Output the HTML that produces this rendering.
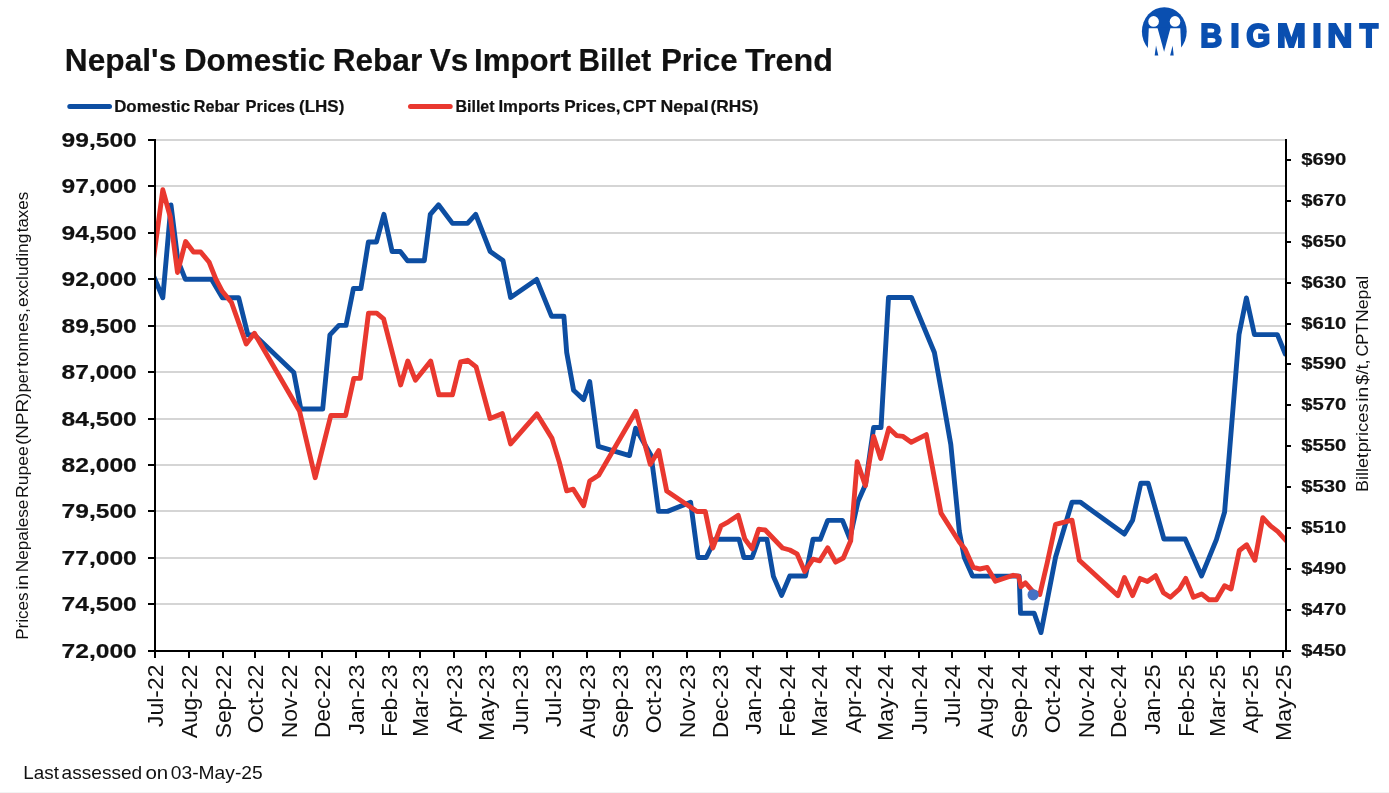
<!DOCTYPE html>
<html lang="en"><head><meta charset="utf-8"><title>Nepal's Domestic Rebar Vs Import Billet Price Trend</title>
<style>html,body{margin:0;padding:0;background:#fff;}body{width:1389px;height:793px;overflow:hidden;}svg{display:block;will-change:transform;}text{font-family:"Liberation Sans",sans-serif;fill:#111111;}.b{font-weight:700;stroke:#111111;stroke-width:0.2px;}</style></head><body>
<svg width="1389" height="793" viewBox="0 0 1389 793">
<rect x="0" y="0" width="1389" height="793" fill="#ffffff"/>
<rect x="0" y="792" width="1389" height="1" fill="#f3f3f3"/>
<defs><clipPath id="plot"><rect x="155" y="130" width="1131" height="530"/></clipPath></defs>
<text class="b" y="70.5" font-size="31"><tspan x="64.86" textLength="111.40" lengthAdjust="spacingAndGlyphs">Nepal's</tspan> <tspan x="183.98" textLength="141.18" lengthAdjust="spacingAndGlyphs">Domestic</tspan> <tspan x="332.66" textLength="89.53" lengthAdjust="spacingAndGlyphs">Rebar</tspan> <tspan x="429.70" textLength="38.64" lengthAdjust="spacingAndGlyphs">Vs</tspan> <tspan x="473.99" textLength="97.16" lengthAdjust="spacingAndGlyphs">Import</tspan> <tspan x="578.48" textLength="72.83" lengthAdjust="spacingAndGlyphs">Billet</tspan> <tspan x="660.98" textLength="76.67" lengthAdjust="spacingAndGlyphs">Price</tspan> <tspan x="745.10" textLength="87.80" lengthAdjust="spacingAndGlyphs">Trend</tspan></text>
<line x1="69.8" y1="106.4" x2="109.5" y2="106.4" stroke="#0d4ea2" stroke-width="5" stroke-linecap="round"/>
<text class="b" y="112" font-size="16.5"><tspan x="114.18" textLength="75.91" lengthAdjust="spacingAndGlyphs">Domestic</tspan> <tspan x="193.72" textLength="45.97" lengthAdjust="spacingAndGlyphs">Rebar</tspan> <tspan x="245.50" textLength="49.55" lengthAdjust="spacingAndGlyphs">Prices</tspan> <tspan x="299.07" textLength="45.26" lengthAdjust="spacingAndGlyphs">(LHS)</tspan></text>
<line x1="410.5" y1="106.4" x2="450.2" y2="106.4" stroke="#e9382f" stroke-width="5" stroke-linecap="round"/>
<text class="b" y="112" font-size="16.5"><tspan x="455.53" textLength="39.00" lengthAdjust="spacingAndGlyphs">Billet</tspan> <tspan x="498.48" textLength="61.44" lengthAdjust="spacingAndGlyphs">Imports</tspan> <tspan x="564.16" textLength="56.31" lengthAdjust="spacingAndGlyphs">Prices,</tspan> <tspan x="622.89" textLength="33.31" lengthAdjust="spacingAndGlyphs">CPT</tspan> <tspan x="660.43" textLength="48.18" lengthAdjust="spacingAndGlyphs">Nepal</tspan> <tspan x="710.45" textLength="48.02" lengthAdjust="spacingAndGlyphs">(RHS)</tspan></text>
<g fill="#d5d5d5">
<rect x="156" y="603" width="1129" height="2"/>
<rect x="156" y="557" width="1129" height="2"/>
<rect x="156" y="510" width="1129" height="2"/>
<rect x="156" y="464" width="1129" height="2"/>
<rect x="156" y="418" width="1129" height="2"/>
<rect x="156" y="371" width="1129" height="2"/>
<rect x="156" y="325" width="1129" height="2"/>
<rect x="156" y="278" width="1129" height="2"/>
<rect x="156" y="232" width="1129" height="2"/>
<rect x="156" y="185" width="1129" height="2"/>
<rect x="156" y="139" width="1129" height="2"/>
</g>
<g fill="none" stroke-width="4.9" stroke-linejoin="round" stroke-linecap="round" clip-path="url(#plot)">
<polyline stroke="#0d4ea2" points="153.0,274.7 154.9,279.2 162.8,297.8 171.0,205.0 177.9,260.7 185.3,279.2 211.5,279.2 222.4,297.8 238.7,297.8 247.9,334.9 254.5,334.9 293.8,372.5 300.8,409.0 322.7,409.0 329.9,334.9 338.9,325.4 346.0,325.4 353.4,288.5 360.9,288.5 368.4,242.0 376.4,242.0 383.9,214.3 392.1,251.5 400.3,251.5 407.5,260.7 424.3,260.7 430.3,214.4 438.5,204.8 452.5,223.4 467.5,223.4 475.7,214.4 490.2,251.5 503.0,260.6 510.6,297.4 536.6,279.4 551.5,316.2 563.9,316.2 566.7,352.5 573.6,390.2 583.6,399.6 589.7,381.5 598.3,446.4 629.5,455.6 635.6,428.2 651.1,455.5 658.5,511.4 667.5,511.4 690.6,502.2 698.0,557.5 706.2,557.5 715.2,539.2 739.0,539.2 743.9,557.5 752.1,557.5 758.7,539.2 766.9,539.2 773.4,576.4 781.6,595.4 789.8,576.0 805.5,576.0 813.0,539.3 820.3,539.3 827.7,520.4 842.5,520.4 849.8,538.6 858.0,501.6 865.5,484.5 873.6,427.5 881.0,427.5 888.5,297.5 911.5,297.5 934.4,352.5 943.0,400.0 950.8,444.5 959.3,531.3 964.3,557.5 972.5,576.1 1019.2,576.1 1020.5,613.3 1034.2,613.3 1041.0,632.6 1055.6,557.0 1072.0,502.1 1080.2,502.1 1124.4,534.1 1132.6,520.2 1140.8,483.3 1148.2,483.3 1163.9,539.0 1185.2,539.0 1201.6,575.9 1216.4,539.6 1224.6,512.0 1239.0,334.6 1246.4,298.0 1254.4,334.6 1277.4,334.6 1285.3,354.0"/>
<polyline stroke="#e9382f" points="153.0,262.6 162.8,189.8 170.3,217.0 177.5,272.5 185.6,241.5 193.5,252.0 200.7,252.0 209.2,262.3 215.8,279.0 222.3,291.3 231.5,302.5 246.2,343.9 254.4,333.3 299.5,411.0 315.2,477.7 330.8,415.5 345.6,415.5 353.8,378.4 360.3,378.4 368.5,313.1 376.7,313.1 383.6,318.9 400.6,385.0 407.8,361.0 415.4,380.2 430.7,361.1 438.9,394.8 452.4,394.8 460.6,362.0 467.6,360.3 476.1,366.9 490.1,418.5 502.4,413.6 510.6,443.9 536.9,413.8 552.0,438.4 559.3,462.1 566.7,490.8 573.3,489.2 583.6,505.6 589.7,481.0 598.7,475.2 635.9,411.3 650.3,464.3 658.7,450.5 666.7,491.0 697.0,511.5 705.3,511.5 712.8,548.0 721.0,525.9 728.4,521.8 738.2,515.3 744.8,539.0 752.1,548.9 758.7,529.2 765.2,530.0 782.5,548.0 789.8,550.0 797.0,553.8 804.7,571.5 813.0,559.2 819.7,560.8 827.7,547.8 835.6,562.1 843.3,558.0 850.7,540.8 857.2,461.8 865.4,485.6 873.6,436.4 880.7,458.5 888.9,428.2 896.6,435.6 903.1,436.4 911.2,442.3 926.3,434.6 941.0,513.1 959.3,542.0 965.1,549.3 973.3,567.4 979.8,569.0 987.2,567.4 995.4,581.3 1013.2,575.3 1018.6,576.2 1021.0,586.8 1025.4,582.8 1033.0,591.5 1039.8,594.5 1047.4,562.0 1055.6,524.3 1072.0,520.2 1079.3,560.3 1117.9,595.6 1124.4,577.5 1132.6,595.6 1140.0,578.4 1147.4,581.6 1155.6,575.7 1163.4,592.7 1170.4,597.2 1179.5,589.0 1185.7,578.4 1193.4,597.2 1201.6,593.9 1209.0,599.7 1216.4,599.7 1224.6,585.7 1231.1,589.0 1239.3,550.5 1246.7,544.8 1254.9,560.3 1262.8,517.7 1270.5,525.9 1277.9,531.6 1286.1,540.7"/>
</g>
<circle cx="1033.1" cy="594.8" r="5.6" fill="#4472c4"/>
<g fill="#000000">
<rect x="154" y="139" width="2" height="513"/>
<rect x="1285" y="139" width="2" height="513"/>
<rect x="148" y="650" width="1143" height="2"/>
<rect x="148" y="603" width="7" height="2"/>
<rect x="148" y="557" width="7" height="2"/>
<rect x="148" y="510" width="7" height="2"/>
<rect x="148" y="464" width="7" height="2"/>
<rect x="148" y="418" width="7" height="2"/>
<rect x="148" y="371" width="7" height="2"/>
<rect x="148" y="325" width="7" height="2"/>
<rect x="148" y="278" width="7" height="2"/>
<rect x="148" y="232" width="7" height="2"/>
<rect x="148" y="185" width="7" height="2"/>
<rect x="148" y="139" width="7" height="2"/>
<rect x="1286" y="609" width="5" height="2"/>
<rect x="1286" y="568" width="5" height="2"/>
<rect x="1286" y="527" width="5" height="2"/>
<rect x="1286" y="486" width="5" height="2"/>
<rect x="1286" y="445" width="5" height="2"/>
<rect x="1286" y="404" width="5" height="2"/>
<rect x="1286" y="363" width="5" height="2"/>
<rect x="1286" y="323" width="5" height="2"/>
<rect x="1286" y="282" width="5" height="2"/>
<rect x="1286" y="241" width="5" height="2"/>
<rect x="1286" y="200" width="5" height="2"/>
<rect x="1286" y="159" width="5" height="2"/>
<rect x="154" y="651" width="2" height="7"/>
<rect x="188" y="651" width="2" height="7"/>
<rect x="222" y="651" width="2" height="7"/>
<rect x="254" y="651" width="2" height="7"/>
<rect x="288" y="651" width="2" height="7"/>
<rect x="321" y="651" width="2" height="7"/>
<rect x="355" y="651" width="2" height="7"/>
<rect x="388" y="651" width="2" height="7"/>
<rect x="419" y="651" width="2" height="7"/>
<rect x="453" y="651" width="2" height="7"/>
<rect x="485" y="651" width="2" height="7"/>
<rect x="519" y="651" width="2" height="7"/>
<rect x="552" y="651" width="2" height="7"/>
<rect x="586" y="651" width="2" height="7"/>
<rect x="619" y="651" width="2" height="7"/>
<rect x="652" y="651" width="2" height="7"/>
<rect x="686" y="651" width="2" height="7"/>
<rect x="719" y="651" width="2" height="7"/>
<rect x="752" y="651" width="2" height="7"/>
<rect x="786" y="651" width="2" height="7"/>
<rect x="818" y="651" width="2" height="7"/>
<rect x="852" y="651" width="2" height="7"/>
<rect x="884" y="651" width="2" height="7"/>
<rect x="918" y="651" width="2" height="7"/>
<rect x="951" y="651" width="2" height="7"/>
<rect x="984" y="651" width="2" height="7"/>
<rect x="1018" y="651" width="2" height="7"/>
<rect x="1051" y="651" width="2" height="7"/>
<rect x="1085" y="651" width="2" height="7"/>
<rect x="1117" y="651" width="2" height="7"/>
<rect x="1151" y="651" width="2" height="7"/>
<rect x="1185" y="651" width="2" height="7"/>
<rect x="1216" y="651" width="2" height="7"/>
<rect x="1249" y="651" width="2" height="7"/>
<rect x="1282" y="651" width="2" height="7"/>
</g>
<g class="b" font-size="20.4" text-anchor="start">
<text x="61.6" y="657.55" textLength="75.2" lengthAdjust="spacingAndGlyphs">72,000</text>
<text x="61.6" y="611.15" textLength="75.2" lengthAdjust="spacingAndGlyphs">74,500</text>
<text x="61.6" y="565.15" textLength="75.2" lengthAdjust="spacingAndGlyphs">77,000</text>
<text x="61.6" y="518.15" textLength="75.2" lengthAdjust="spacingAndGlyphs">79,500</text>
<text x="61.6" y="472.15" textLength="75.2" lengthAdjust="spacingAndGlyphs">82,000</text>
<text x="61.6" y="426.15" textLength="75.2" lengthAdjust="spacingAndGlyphs">84,500</text>
<text x="61.6" y="379.15" textLength="75.2" lengthAdjust="spacingAndGlyphs">87,000</text>
<text x="61.6" y="333.15" textLength="75.2" lengthAdjust="spacingAndGlyphs">89,500</text>
<text x="61.6" y="286.15" textLength="75.2" lengthAdjust="spacingAndGlyphs">92,000</text>
<text x="61.6" y="240.15" textLength="75.2" lengthAdjust="spacingAndGlyphs">94,500</text>
<text x="61.6" y="193.15" textLength="75.2" lengthAdjust="spacingAndGlyphs">97,000</text>
<text x="61.6" y="147.15" textLength="75.2" lengthAdjust="spacingAndGlyphs">99,500</text>
</g>
<g class="b" font-size="16" text-anchor="start">
<text x="1301.2" y="655.70" textLength="45" lengthAdjust="spacingAndGlyphs">$450</text>
<text x="1301.2" y="615.30" textLength="45" lengthAdjust="spacingAndGlyphs">$470</text>
<text x="1301.2" y="574.30" textLength="45" lengthAdjust="spacingAndGlyphs">$490</text>
<text x="1301.2" y="533.30" textLength="45" lengthAdjust="spacingAndGlyphs">$510</text>
<text x="1301.2" y="492.30" textLength="45" lengthAdjust="spacingAndGlyphs">$530</text>
<text x="1301.2" y="451.30" textLength="45" lengthAdjust="spacingAndGlyphs">$550</text>
<text x="1301.2" y="410.30" textLength="45" lengthAdjust="spacingAndGlyphs">$570</text>
<text x="1301.2" y="369.30" textLength="45" lengthAdjust="spacingAndGlyphs">$590</text>
<text x="1301.2" y="329.30" textLength="45" lengthAdjust="spacingAndGlyphs">$610</text>
<text x="1301.2" y="288.30" textLength="45" lengthAdjust="spacingAndGlyphs">$630</text>
<text x="1301.2" y="247.30" textLength="45" lengthAdjust="spacingAndGlyphs">$650</text>
<text x="1301.2" y="206.30" textLength="45" lengthAdjust="spacingAndGlyphs">$670</text>
<text x="1301.2" y="165.30" textLength="45" lengthAdjust="spacingAndGlyphs">$690</text>
</g>
<g font-size="22" text-anchor="end">
<text transform="translate(162.80,664.6) rotate(-90) scale(1.04,1)">Jul-22</text>
<text transform="translate(196.80,664.6) rotate(-90) scale(1.04,1)">Aug-22</text>
<text transform="translate(230.80,664.6) rotate(-90) scale(1.04,1)">Sep-22</text>
<text transform="translate(262.80,664.6) rotate(-90) scale(1.04,1)">Oct-22</text>
<text transform="translate(296.80,664.6) rotate(-90) scale(1.04,1)">Nov-22</text>
<text transform="translate(329.80,664.6) rotate(-90) scale(1.04,1)">Dec-22</text>
<text transform="translate(363.80,664.6) rotate(-90) scale(1.04,1)">Jan-23</text>
<text transform="translate(396.80,664.6) rotate(-90) scale(1.04,1)">Feb-23</text>
<text transform="translate(427.80,664.6) rotate(-90) scale(1.04,1)">Mar-23</text>
<text transform="translate(461.80,664.6) rotate(-90) scale(1.04,1)">Apr-23</text>
<text transform="translate(493.80,664.6) rotate(-90) scale(1.04,1)">May-23</text>
<text transform="translate(527.80,664.6) rotate(-90) scale(1.04,1)">Jun-23</text>
<text transform="translate(560.80,664.6) rotate(-90) scale(1.04,1)">Jul-23</text>
<text transform="translate(594.80,664.6) rotate(-90) scale(1.04,1)">Aug-23</text>
<text transform="translate(627.80,664.6) rotate(-90) scale(1.04,1)">Sep-23</text>
<text transform="translate(660.80,664.6) rotate(-90) scale(1.04,1)">Oct-23</text>
<text transform="translate(694.80,664.6) rotate(-90) scale(1.04,1)">Nov-23</text>
<text transform="translate(727.80,664.6) rotate(-90) scale(1.04,1)">Dec-23</text>
<text transform="translate(760.80,664.6) rotate(-90) scale(1.04,1)">Jan-24</text>
<text transform="translate(794.80,664.6) rotate(-90) scale(1.04,1)">Feb-24</text>
<text transform="translate(826.80,664.6) rotate(-90) scale(1.04,1)">Mar-24</text>
<text transform="translate(860.80,664.6) rotate(-90) scale(1.04,1)">Apr-24</text>
<text transform="translate(892.80,664.6) rotate(-90) scale(1.04,1)">May-24</text>
<text transform="translate(926.80,664.6) rotate(-90) scale(1.04,1)">Jun-24</text>
<text transform="translate(959.80,664.6) rotate(-90) scale(1.04,1)">Jul-24</text>
<text transform="translate(992.80,664.6) rotate(-90) scale(1.04,1)">Aug-24</text>
<text transform="translate(1026.80,664.6) rotate(-90) scale(1.04,1)">Sep-24</text>
<text transform="translate(1059.80,664.6) rotate(-90) scale(1.04,1)">Oct-24</text>
<text transform="translate(1093.80,664.6) rotate(-90) scale(1.04,1)">Nov-24</text>
<text transform="translate(1125.80,664.6) rotate(-90) scale(1.04,1)">Dec-24</text>
<text transform="translate(1159.80,664.6) rotate(-90) scale(1.04,1)">Jan-25</text>
<text transform="translate(1193.80,664.6) rotate(-90) scale(1.04,1)">Feb-25</text>
<text transform="translate(1224.80,664.6) rotate(-90) scale(1.04,1)">Mar-25</text>
<text transform="translate(1257.80,664.6) rotate(-90) scale(1.04,1)">Apr-25</text>
<text transform="translate(1290.80,664.6) rotate(-90) scale(1.04,1)">May-25</text>
</g>
<text font-size="16" transform="translate(28,0) rotate(-90)"><tspan x="-639.87" textLength="47.35" lengthAdjust="spacingAndGlyphs">Prices</tspan> <tspan x="-589.71" textLength="15.07" lengthAdjust="spacingAndGlyphs">in</tspan> <tspan x="-572.17" textLength="72.53" lengthAdjust="spacingAndGlyphs">Nepalese</tspan> <tspan x="-497.90" textLength="51.77" lengthAdjust="spacingAndGlyphs">Rupee</tspan> <tspan x="-444.98" textLength="52.27" lengthAdjust="spacingAndGlyphs">(NPR)</tspan> <tspan x="-392.32" textLength="23.65" lengthAdjust="spacingAndGlyphs">per</tspan> <tspan x="-366.80" textLength="58.76" lengthAdjust="spacingAndGlyphs">tonnes,</tspan> <tspan x="-306.99" textLength="73.45" lengthAdjust="spacingAndGlyphs">excluding</tspan> <tspan x="-232.30" textLength="40.46" lengthAdjust="spacingAndGlyphs">taxes</tspan></text>
<text font-size="16" transform="translate(1368.4,0) rotate(-90)"><tspan x="-492.02" textLength="39.00" lengthAdjust="spacingAndGlyphs">Billet</tspan> <tspan x="-452.35" textLength="48.93" lengthAdjust="spacingAndGlyphs">prices</tspan> <tspan x="-401.72" textLength="15.19" lengthAdjust="spacingAndGlyphs">in</tspan> <tspan x="-384.70" textLength="25.20" lengthAdjust="spacingAndGlyphs">$/t,</tspan> <tspan x="-356.63" textLength="32.83" lengthAdjust="spacingAndGlyphs">CPT</tspan> <tspan x="-321.90" textLength="45.99" lengthAdjust="spacingAndGlyphs">Nepal</tspan></text>
<text font-size="17.7" y="778.7"><tspan x="23.34" textLength="35.53" lengthAdjust="spacingAndGlyphs">Last</tspan> <tspan x="61.62" textLength="80.57" lengthAdjust="spacingAndGlyphs">assessed</tspan> <tspan x="145.44" textLength="22.81" lengthAdjust="spacingAndGlyphs">on</tspan> <tspan x="170.81" textLength="91.88" lengthAdjust="spacingAndGlyphs">03-May-25</tspan></text>
<ellipse cx="1164.3" cy="31.5" rx="22.4" ry="24.3" fill="#0a4fb0"/>
<circle cx="1153.6" cy="21.4" r="5.3" fill="#fff"/>
<circle cx="1175.0" cy="21.4" r="5.3" fill="#fff"/>
<polygon points="1148.8,28.2 1180.3,28.2 1181.6,57.5 1147.4,57.5" fill="#fff"/>
<polygon points="1157.4,27.5 1170.6,27.5 1164.1,51.7" fill="#0a4fb0"/>
<polygon points="1156.0,45.6 1158.3,55.6 1154.7,55.6" fill="#0a4fb0"/>
<polygon points="1172.6,45.6 1173.7,55.6 1170.1,55.6" fill="#0a4fb0"/>
<text class="b" y="47.3" font-size="32.35" style="fill:#0a4fb0;stroke:#0a4fb0;stroke-width:2;stroke-linejoin:miter"><tspan x="1200.16" textLength="22.02" lengthAdjust="spacingAndGlyphs">B</tspan><tspan x="1230.22" textLength="9.45" lengthAdjust="spacingAndGlyphs">I</tspan><tspan x="1246.33" textLength="24.09" lengthAdjust="spacingAndGlyphs">G</tspan><tspan x="1276.76" textLength="29.19" lengthAdjust="spacingAndGlyphs">M</tspan><tspan x="1312.22" textLength="9.45" lengthAdjust="spacingAndGlyphs">I</tspan><tspan x="1327.37" textLength="25.18" lengthAdjust="spacingAndGlyphs">N</tspan><tspan x="1359.76" textLength="18.36" lengthAdjust="spacingAndGlyphs">T</tspan></text>
</svg></body></html>
